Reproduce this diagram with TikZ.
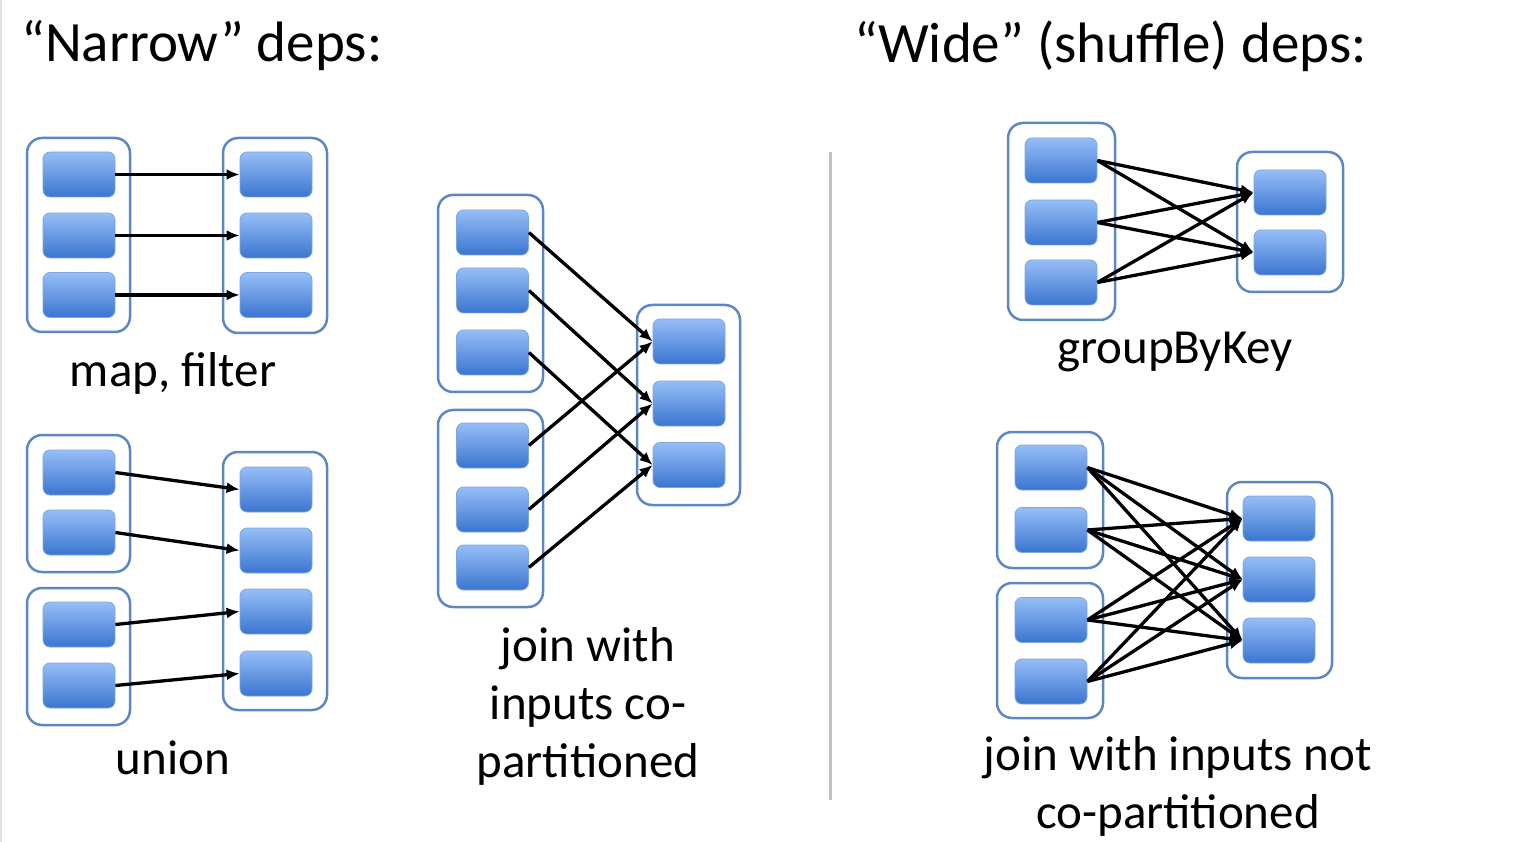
\documentclass[tikz,border=0pt]{standalone}
\usepackage{fontspec}
\setmainfont{Carlito}
\usetikzlibrary{arrows.meta}
\definecolor{rddframe}{HTML}{5B88C4}
\definecolor{parttop}{HTML}{96BEF7}
\definecolor{partbot}{HTML}{3A75D0}
\definecolor{partline}{HTML}{7EA6DE}
\tikzset{
  label text/.style={font=\fontsize{49}{58}\selectfont, align=center, inner sep=0pt},
  title text/.style={font=\fontsize{57}{68}\selectfont, anchor=west, inner sep=0pt}
}

\begin{document}
\begin{tikzpicture}[x=1pt,y=-1pt]
      \fill[white] (0,0) rectangle (1519,842);
      \useasboundingbox (0,0) rectangle (1519,842);
      \draw[black!12, line width=1.5pt] (1,0) -- (1,842);
      % headings and divider
      \node[title text] (narrow) at (21,46) {“Narrow” deps:};
      \node[title text] (wide) at (854,46) {“Wide” (shuffle) deps:};
      \draw[black!25, line width=3pt] (830,152) -- (830,800);
      \begin{scope}[every node/.style={draw=rddframe,line width=2.5pt,fill=white,rounded corners=15pt,inner sep=0pt}]
        \node[minimum width=103pt,minimum height=194pt] (mapL) at (78.5,235) {};
        \node[minimum width=104pt,minimum height=195pt] (mapR) at (275,235.5) {};
        \node[minimum width=103pt,minimum height=137pt] (unL1) at (78.5,503.5) {};
        \node[minimum width=103pt,minimum height=137pt] (unL2) at (78.5,656.5) {};
        \node[minimum width=104pt,minimum height=258pt] (unR) at (275,581) {};
        \node[minimum width=105pt,minimum height=197pt] (coL1) at (490.5,293.5) {};
        \node[minimum width=105pt,minimum height=197pt] (coL2) at (490.5,508.5) {};
        \node[minimum width=103pt,minimum height=200pt] (coR) at (688.5,405) {};
        \node[minimum width=107pt,minimum height=197pt] (gbL) at (1061.5,221.5) {};
        \node[minimum width=106pt,minimum height=140pt] (gbR) at (1290,222) {};
        \node[minimum width=106pt,minimum height=136pt] (ncL1) at (1050,500) {};
        \node[minimum width=106pt,minimum height=135pt] (ncL2) at (1050,650.5) {};
        \node[minimum width=105pt,minimum height=196pt] (ncR) at (1279.5,580) {};
      \end{scope}
      \begin{scope}[every node/.style={rounded corners=7pt,top color=parttop,bottom color=partbot,draw=partline,line width=0.8pt,minimum width=72pt,minimum height=45pt,inner sep=0pt}]
        % map, filter
        \node (a1) at (79,174.5) {};
        \node (a2) at (79,235.5) {};
        \node (a3) at (79,295) {};
        \node (b1) at (276,174.5) {};
        \node (b2) at (276,235.5) {};
        \node (b3) at (276,295) {};
        % union
        \node (u1) at (79,472.5) {};
        \node (u2) at (79,532.5) {};
        \node (u3) at (79,624.5) {};
        \node (u4) at (79,685.5) {};
        \node (v1) at (276,489.5) {};
        \node (v2) at (276,550.5) {};
        \node (v3) at (276,611.5) {};
        \node (v4) at (276,673.5) {};
        % join, co-partitioned
        \node (j1) at (492.5,232.5) {};
        \node (j2) at (492.5,290.5) {};
        \node (j3) at (492.5,352.5) {};
        \node (j4) at (492.5,445.5) {};
        \node (j5) at (492.5,509.5) {};
        \node (j6) at (492.5,567.5) {};
        \node (k1) at (689,341.5) {};
        \node (k2) at (689,403.5) {};
        \node (k3) at (689,465) {};
        % groupByKey
        \node (g1) at (1061,160.5) {};
        \node (g2) at (1061,222.5) {};
        \node (g3) at (1061,282.5) {};
        \node (h1) at (1290,192.5) {};
        \node (h2) at (1290,252.5) {};
        % join, not co-partitioned
        \node (n1) at (1051,467.5) {};
        \node (n2) at (1051,530) {};
        \node (n3) at (1051,620) {};
        \node (n4) at (1051,681.5) {};
        \node (p1) at (1279,518.5) {};
        \node (p2) at (1279,579.5) {};
        \node (p3) at (1279,640.5) {};
      \end{scope}
      \begin{scope}[every edge/.style={draw,line width=3.3pt,-{Latex[length=13pt,width=11pt]}}]
        \path (a1.east) edge (b1.west);
        \path (a2.east) edge (b2.west);
        \path (a3.east) edge (b3.west);
        \path (u1.east) edge (v1.west);
        \path (u2.east) edge (v2.west);
        \path (u3.east) edge (v3.west);
        \path (u4.east) edge (v4.west);
        \path (j1.east) edge (k1.west);
        \path (j2.east) edge (k2.west);
        \path (j3.east) edge (k3.west);
        \path (j4.east) edge (k1.west);
        \path (j5.east) edge (k2.west);
        \path (j6.east) edge (k3.west);
        \path (g1.east) edge (h1.west);
        \path (g1.east) edge (h2.west);
        \path (g2.east) edge (h1.west);
        \path (g2.east) edge (h2.west);
        \path (g3.east) edge (h1.west);
        \path (g3.east) edge (h2.west);
        \path (n1.east) edge (p1.west);
        \path (n1.east) edge (p2.west);
        \path (n1.east) edge (p3.west);
        \path (n2.east) edge (p1.west);
        \path (n2.east) edge (p2.west);
        \path (n2.east) edge (p3.west);
        \path (n3.east) edge (p1.west);
        \path (n3.east) edge (p2.west);
        \path (n3.east) edge (p3.west);
        \path (n4.east) edge (p1.west);
        \path (n4.east) edge (p2.west);
        \path (n4.east) edge (p3.west);
      \end{scope}
      % captions
      \node[label text] (mapcap) at (173,373) {map, filter};
      \node[label text] (unioncap) at (173,758) {union};
      \node[label text] (cocap) at (588,706) {join with\\inputs co-\\partitioned};
      \node[label text] (gbcap) at (1175,352) {groupByKey};
      \node[label text] (nccap) at (1178,786) {join with inputs not\\co-partitioned};
    \end{tikzpicture}
\end{document}
